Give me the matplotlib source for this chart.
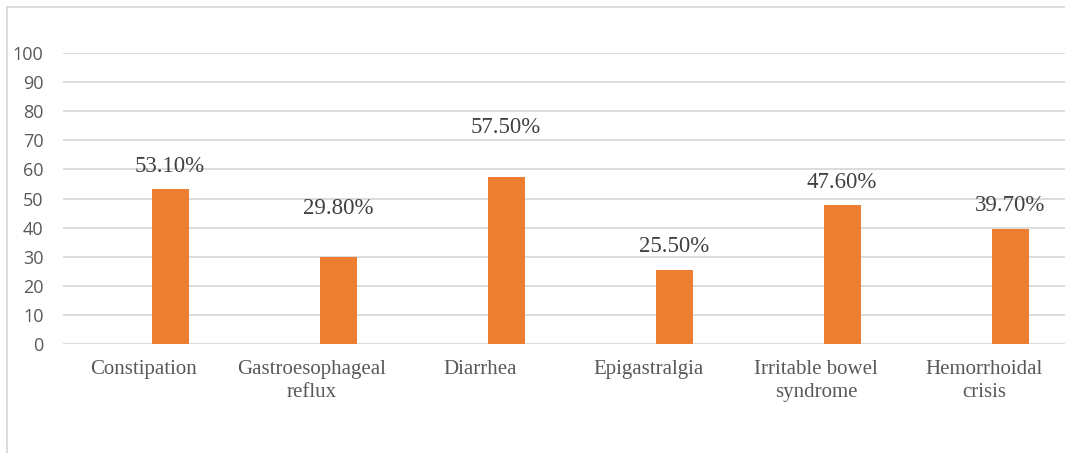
import matplotlib
matplotlib.use("Agg")
import matplotlib.pyplot as plt
from matplotlib.lines import Line2D
import numpy as np

# data
categories = ["Constipation", "Gastroesophageal\nreflux", "Diarrhea",
              "Epigastralgia", "Irritable bowel\nsyndrome", "Hemorrhoidal\ncrisis"]
values = [53.1, 29.8, 57.5, 25.5, 47.6, 39.7]
value_labels = ["53.10%", "29.80%", "57.50%", "25.50%", "47.60%", "39.70%"]
y_ticks = [0, 10, 20, 30, 40, 50, 60, 70, 80, 90, 100]

BAR_COLOR = "#ED7D31"
GRID_COLOR = "#D9D9D9"
TEXT_GRAY = "#595959"

W, H = 1065, 453
fig = plt.figure(figsize=(W / 100, H / 100), dpi=100)
fig.patch.set_facecolor("white")

# axes placed in pixel terms
left, right, top, bottom = 63, 1065, 52.7, 344.3
ax = fig.add_axes([left / W, 1 - bottom / H, (right - left) / W, (bottom - top) / H])

x = np.arange(len(categories))
ax.bar(x + 0.155, values, width=0.22, color=BAR_COLOR, zorder=3)

ax.set_xlim(-0.482, 5.482)
ax.set_ylim(0, 100)
ax.set_yticks(y_ticks)
ax.set_yticklabels([str(t) for t in y_ticks], fontfamily="Open Sans",
                   fontsize=13, color=TEXT_GRAY)
ax.set_xticks(x)
ax.set_xticklabels(categories, fontfamily="Liberation Serif", fontsize=15,
                   color=TEXT_GRAY)
for lab in ax.get_xticklabels():
    lab.set_linespacing(1.3)
    lab.set_multialignment("center")
ax.tick_params(axis="both", length=0)
ax.tick_params(axis="y", pad=14)
ax.tick_params(axis="x", pad=11)

ax.grid(axis="y", color=GRID_COLOR, linewidth=1.3, zorder=0)
for s in ax.spines.values():
    s.set_visible(False)

# value labels (two of them sit higher in the original)
lift = [0, 19, 19, 0, 0, 0]
for i, (v, lab) in enumerate(zip(values, value_labels)):
    ax.annotate(lab, xy=(x[i] + 0.155, v), xytext=(0, 9 + lift[i]),
                textcoords="offset points", ha="center", va="bottom",
                fontfamily="Liberation Serif", fontsize=16.5, color="#404040")

# outer chart frame
fy = 1 - 7 / H
fx = 7 / W
fig.add_artist(Line2D([fx, 1], [fy, fy], color=GRID_COLOR, linewidth=1.3))
fig.add_artist(Line2D([fx, fx], [0, fy], color=GRID_COLOR, linewidth=1.3))

fig.savefig("out.png", dpi=100)
